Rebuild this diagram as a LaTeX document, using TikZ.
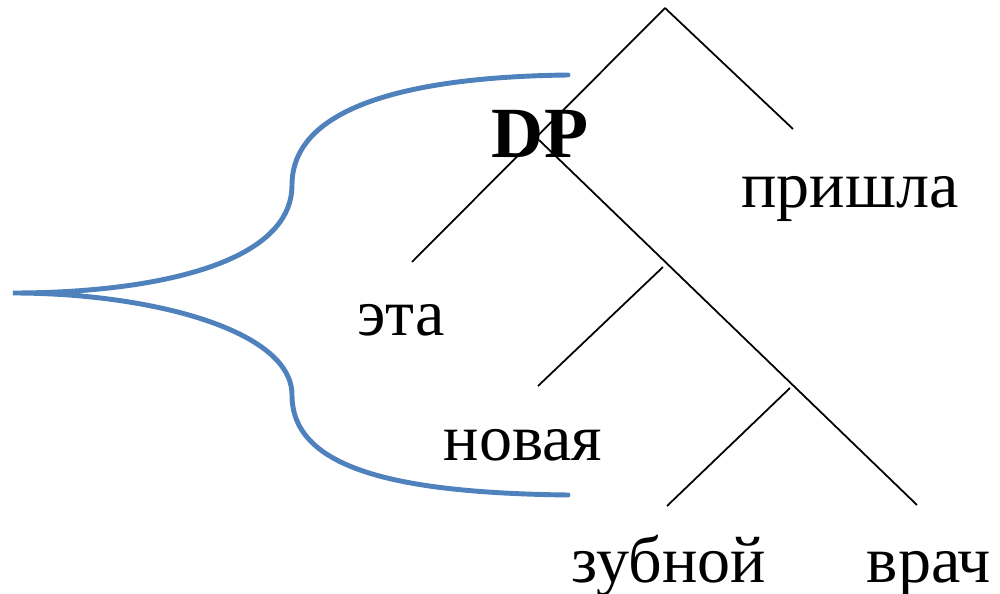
\documentclass[tikz,border=0pt]{standalone}
\usepackage{fontspec}
\setmainfont{Liberation Serif}
\usetikzlibrary{positioning}
\definecolor{braceblue}{HTML}{4F81BD}

\begin{document}
\begin{tikzpicture}[x=0.1mm, y=-0.1mm, word/.style = {anchor=base, inner sep=0pt, font=\fontsize{18.8}{21}\selectfont}, branch/.style = {line width=0.5pt}, brace/.style = {draw=braceblue, line width=1.4pt, line cap=round}]
\useasboundingbox (0,0) rectangle (1000,594);

% tree points
\coordinate (top)   at (665,8);
\coordinate (vp)    at (793,129);
\coordinate (dpl)   at (412,262);
\coordinate (dpr)   at (539,140);
\coordinate (np)    at (917,505);
\coordinate (n1)    at (663,267);
\coordinate (n1l)   at (538,386);
\coordinate (n2)    at (790,388);
\coordinate (n2l)   at (667,506);

% words
\node[word] (prishla) at (850,207) {пришла};
\node[word] (eta)     at (401,335) {эта};
\node[word] (novaya)  at (523,460) {новая};
\node[word] (zubnoj)  at (669,582) {зубной};
\node[word] (vrach)   at (929,582) {врач};
\node[word, font=\bfseries\fontsize{20.5}{22}\selectfont] (dp) at (540,157) {DP};

\draw[branch] (top) -- (dpl);
\draw[branch] (top) -- (vp);
\draw[branch] (dpr) -- (np);
\draw[branch] (n1) -- (n1l);
\draw[branch] (n2) -- (n2l);

% brace
\coordinate (bt)  at (568,75);
\coordinate (bm1) at (292,185);
\coordinate (tip) at (13,293);
\coordinate (bm2) at (292,395);
\coordinate (bb)  at (568,495);
\draw[brace] (bt) .. controls (400,77) and (292,110) .. (bm1)
  .. controls (292,265) and (150,293) .. (tip)
  .. controls (150,293) and (292,330) .. (bm2)
  .. controls (292,470) and (400,493) .. (bb);

\end{tikzpicture}
\end{document}
